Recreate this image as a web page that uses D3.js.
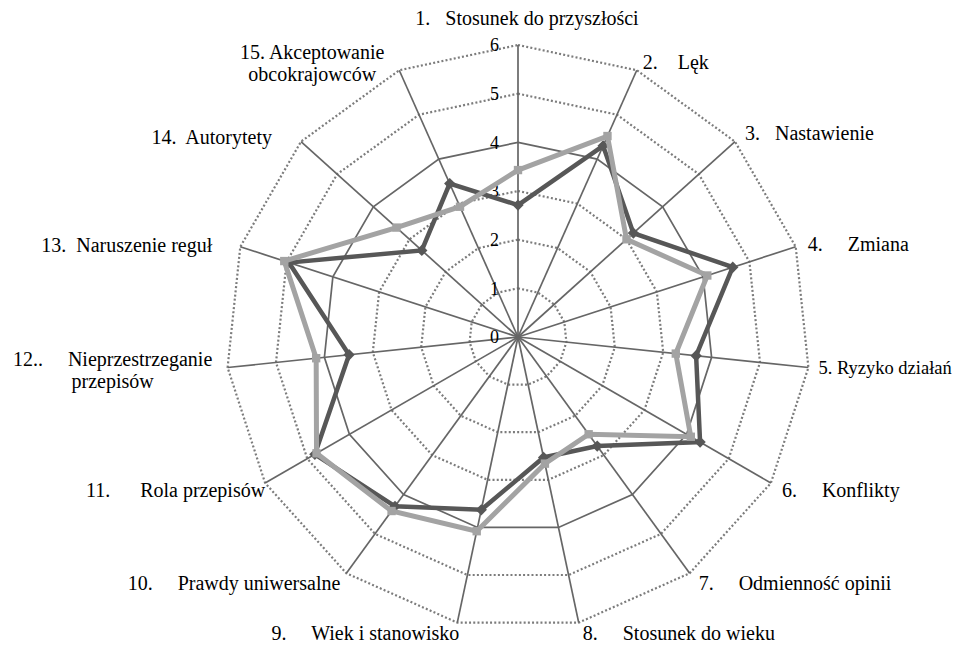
<!DOCTYPE html>
<html>
<head>
<meta charset="utf-8">
<script src="https://cdn.jsdelivr.net/npm/d3@7/dist/d3.min.js"></script>
<style>
  body { margin: 0; background: #fff; }
  svg { display: block; }
  text { font-family: "Liberation Serif", "Times New Roman", "DejaVu Serif", serif; fill: #000; }
</style>
</head>
<body>
<svg id="chart" width="963" height="646"></svg>
<script>
// axis labels (each entry = lines of the label)
var categories = [
  ["1.   Stosunek do przyszłości"],
  ["2.    Lęk"],
  ["3.   Nastawienie"],
  ["4.     Zmiana"],
  ["5. Ryzyko działań"],
  ["6.     Konflikty"],
  ["7.     Odmienność opinii"],
  ["8.     Stosunek do wieku"],
  ["9.     Wiek i stanowisko"],
  ["10.     Prawdy uniwersalne"],
  ["11.      Rola przepisów"],
  ["12..     Nieprzestrzeganie", "przepisów"],
  ["13.  Naruszenie reguł"],
  ["14.  Autorytety"],
  ["15. Akceptowanie", "obcokrajowców"]
];

// series values
var seriesDark  = [2.71, 4.30, 3.19, 4.64, 3.68, 4.32, 2.77, 2.53, 3.63, 4.30, 4.82, 3.49, 4.95, 2.66, 3.45];
var seriesLight = [3.43, 4.52, 3.00, 4.09, 3.26, 4.10, 2.47, 2.66, 4.08, 4.42, 4.78, 4.17, 5.05, 3.36, 2.93];

var ticks = [0, 1, 2, 3, 4, 5, 6];

// label placement relative to the end of each spoke: anchor, dx, dy (to the middle of the 1st line), font size
var labelLayout = [
  ["middle", 9, -27, 20], ["start", 6, -8, 20], ["start", 10, -9, 20], ["start", 12, -3, 20],
  ["start", 10, 0, 18.5], ["start", 11, 7, 20], ["start", 9, 10, 20], ["start", 4, 10, 20],
  ["end", 2, 10, 20], ["end", -6, 10, 20], ["end", 0, 7, 20], ["middle", -115, -9, 20],
  ["end", -28, -2, 20], ["end", -29, -5, 20], ["middle", -87, -18, 20]
];

var svg = d3.select("#chart");
var cx = 518, cy = 337, R = 292;
var n = categories.length;

var r = d3.scaleLinear().domain([0, 6]).range([0, R]);
var angle = d3.scaleLinear().domain([0, n]).range([0, 2 * Math.PI]);

var g = svg.append("g").attr("transform", "translate(" + cx + "," + cy + ")");

function px(i, v) { return r(v) * Math.sin(angle(i)); }
function py(i, v) { return -r(v) * Math.cos(angle(i)); }

// grid rings
var ringLine = d3.lineRadial()
    .angle(function(d, i) { return angle(i); })
    .radius(function(d) { return r(d); })
    .curve(d3.curveLinearClosed);

g.append("g").attr("class", "rings")
  .selectAll("path")
  .data(ticks.filter(function(t) { return t > 0; }))
  .enter()
  .append("path")
  .attr("d", function(t) { return ringLine(d3.range(n).map(function() { return t; })); })
  .attr("fill", "none")
  .attr("stroke", function(t) { return t === 4 ? "#666" : "#7c7c7c"; })
  .attr("stroke-width", function(t) { return t === 4 ? 1.7 : 2.2; })
  .attr("stroke-dasharray", function(t) { return t === 4 ? null : "2,2.2"; });

// spokes
g.append("g").attr("class", "spokes")
  .selectAll("line")
  .data(d3.range(n))
  .enter()
  .append("line")
  .attr("x1", 0).attr("y1", 0)
  .attr("x2", function(i) { return px(i, 6); })
  .attr("y2", function(i) { return py(i, 6); })
  .attr("stroke", "#666")
  .attr("stroke-width", 1.7);

// tick labels
g.append("g").attr("class", "ticks")
  .selectAll("text")
  .data(ticks)
  .enter()
  .append("text")
  .attr("x", -19)
  .attr("y", function(t) { return -r(t); })
  .attr("dy", "0.35em")
  .attr("text-anchor", "end")
  .style("font-size", "18px")
  .text(function(t) { return t; });

// series
var seriesLine = d3.lineRadial()
    .angle(function(d, i) { return angle(i); })
    .radius(function(d) { return r(d); })
    .curve(d3.curveLinearClosed);

function drawSeries(values, colour, width, marker, markerSize, rotate) {
  var s = g.append("g");
  s.append("path")
    .attr("d", seriesLine(values))
    .attr("fill", "none")
    .attr("stroke", colour)
    .attr("stroke-width", width)
    .attr("stroke-linejoin", "miter");
  s.selectAll("path.marker")
    .data(values)
    .enter()
    .append("path")
    .attr("class", "marker")
    .attr("d", d3.symbol().type(marker).size(markerSize))
    .attr("transform", function(d, i) {
      return "translate(" + px(i, d) + "," + py(i, d) + ") rotate(" + rotate + ")";
    })
    .attr("fill", colour);
}

drawSeries(seriesDark, "#575757", 4.5, d3.symbolSquare, 64, 45);
drawSeries(seriesLight, "#a3a3a3", 5, d3.symbolSquare, 70, 0);

// axis labels
var labels = g.append("g").attr("class", "labels")
  .selectAll("text")
  .data(categories)
  .enter()
  .append("text")
  .attr("xml:space", "preserve")
  .style("white-space", "pre")
  .style("font-size", function(d, i) { return labelLayout[i][3] + "px"; })
  .attr("text-anchor", function(d, i) { return labelLayout[i][0]; })
  .attr("transform", function(d, i) {
    return "translate(" + (px(i, 6) + labelLayout[i][1]) + "," + (py(i, 6) + labelLayout[i][2]) + ")";
  });

labels.selectAll("tspan")
  .data(function(d) { return d; })
  .enter()
  .append("tspan")
  .attr("x", 0)
  .attr("y", function(d, j) { return j * 22; })
  .attr("dy", "0.35em")
  .text(function(d) { return d; });
</script>
</body>
</html>
